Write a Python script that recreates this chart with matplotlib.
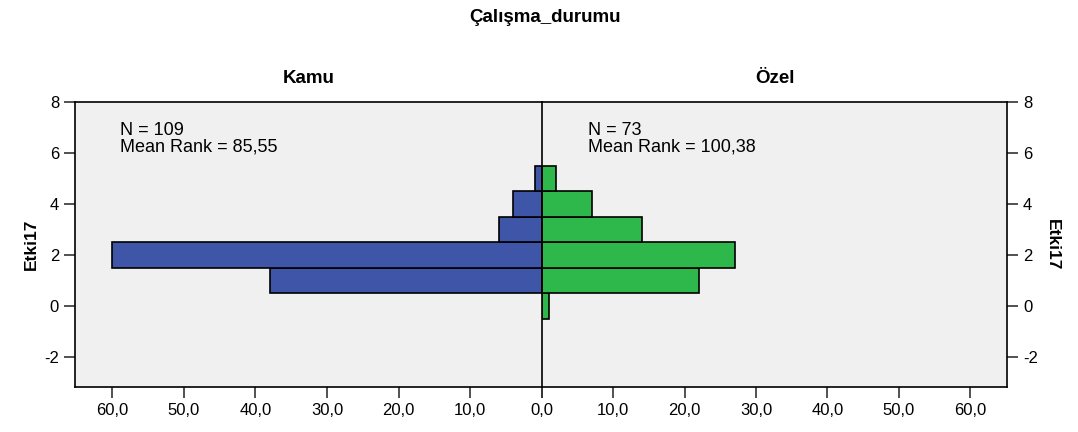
import matplotlib.pyplot as plt
import numpy as np

plt.rcParams['font.family'] = ['Liberation Sans', 'DejaVu Sans']
plt.rcParams['axes.unicode_minus'] = False

etki = [0, 1, 2, 3, 4, 5]
kamu = [0, 38, 60, 6, 4, 1]
ozel = [1, 22, 27, 14, 7, 2]
xticks = [0, 10, 20, 30, 40, 50, 60]
yticks = [-2, 0, 2, 4, 6, 8]

blue = '#3F55A8'
green = '#2EB84B'
bg = '#F0F0F0'

fig = plt.figure(figsize=(10.78, 4.32), dpi=100)
axl = fig.add_axes([75/1078, 1-387/432, 467/1078, 285/432])
axr = fig.add_axes([542/1078, 1-387/432, 465/1078, 285/432])

for ax, vals, col in [(axl, kamu, blue), (axr, ozel, green)]:
    ax.set_facecolor(bg)
    v = np.array(vals)
    e = np.array(etki)
    m = v > 0
    ax.barh(e[m], v[m], height=1.0, color=col, edgecolor='black', linewidth=1.2, zorder=2)
    ax.set_xlim(0, 65.2)
    ax.set_ylim(-3.18, 8)
    ax.set_xticks(xticks)
    ax.set_yticks(yticks)
    ax.tick_params(axis='both', direction='out', length=8, width=1.2, labelsize=12, color='#333333')
    for s in ax.spines.values():
        s.set_linewidth(1.2)

axl.set_xticklabels([('%.1f' % t).replace('.', ',') for t in xticks])
axr.set_xticklabels([''] + [('%.1f' % t).replace('.', ',') for t in xticks[1:]])

axl.invert_xaxis()
axl.spines['right'].set_visible(False)
axr.yaxis.tick_right()
axr.yaxis.set_label_position('right')

axl.set_ylabel('Etki17', fontsize=12.5, fontweight='bold', labelpad=4)
axr.set_ylabel('Etki17', fontsize=12.5, fontweight='bold', rotation=270, labelpad=16)

axl.text(0.097, 0.93, 'N = 109\nMean Rank = 85,55', transform=axl.transAxes,
         fontsize=13, va='top', ha='left', linespacing=1.0)
axr.text(0.098, 0.93, 'N = 73\nMean Rank = 100,38', transform=axr.transAxes,
         fontsize=13, va='top', ha='left', linespacing=1.0)

axl.set_title('Kamu', fontsize=13.5, fontweight='bold', pad=14)
axr.set_title('Özel', fontsize=13.5, fontweight='bold', pad=14)
fig.text(545/1078, 1-18/432, 'Çalışma_durumu', fontsize=13.5, fontweight='bold', ha='center', va='center')

fig.savefig('out.png', dpi=100)
